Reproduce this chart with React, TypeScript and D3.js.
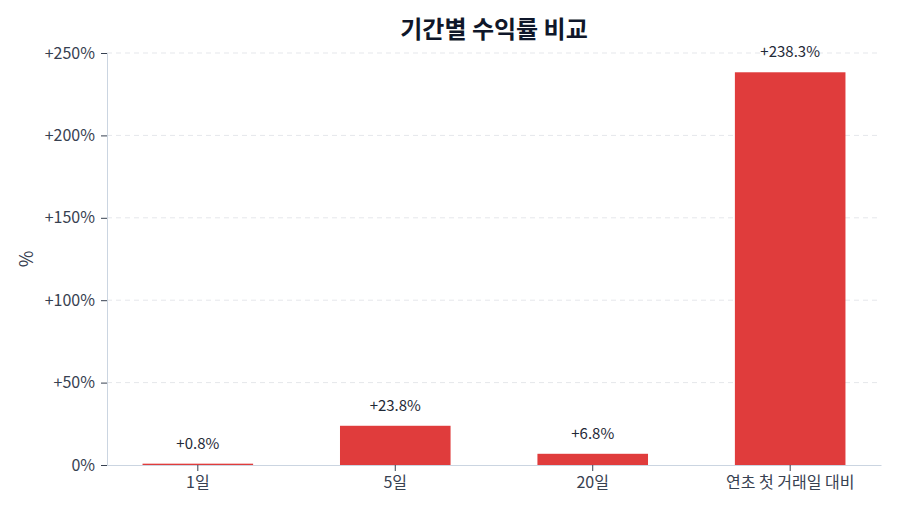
import { useEffect, useRef } from 'react'
import * as d3 from 'd3'

const categories = ['1일', '5일', '20일', '연초 첫 거래일 대비']
const returns = [0.8, 23.8, 6.8, 238.3]
const yTicks = [0, 50, 100, 150, 200, 250]

const W = 900
const H = 514
const margins = { top: 53, right: 19, bottom: 49, left: 107 }
const FONT = "'Noto Sans CJK KR', 'Noto Sans', sans-serif"

const fmt = (v: number) => (v === 0 ? '0%' : '+' + v + '%')

export default function App() {
	const ref = useRef<SVGSVGElement>(null)

	useEffect(() => {
		const svg = d3.select(ref.current)
		svg.selectAll('*').remove()

		const x = d3
			.scaleBand()
			.domain(categories)
			.range([margins.left, W - margins.right])
			.paddingInner(0.44)
			.paddingOuter(0.18)

		const y = d3
			.scaleLinear()
			.domain([0, 250])
			.range([H - margins.bottom, margins.top])

		// grid lines
		svg
			.append('g')
			.selectAll('line')
			.data(yTicks.filter((d) => d > 0))
			.enter()
			.append('line')
			.attr('x1', margins.left)
			.attr('x2', W - margins.right)
			.attr('y1', (d) => y(d))
			.attr('y2', (d) => y(d))
			.attr('stroke', '#e5e7eb')
			.attr('stroke-dasharray', '5,4')

		// bars
		svg
			.append('g')
			.selectAll('rect')
			.data(returns)
			.enter()
			.append('rect')
			.attr('x', (_d, i) => x(categories[i]) as number)
			.attr('width', x.bandwidth())
			.attr('y', (d) => y(d))
			.attr('height', (d) => y(0) - y(d))
			.attr('fill', '#e03c3c')

		// value labels
		svg
			.append('g')
			.selectAll('text')
			.data(returns)
			.enter()
			.append('text')
			.attr('x', (_d, i) => (x(categories[i]) as number) + x.bandwidth() / 2)
			.attr('y', (d) => y(d) - 15)
			.attr('text-anchor', 'middle')
			.style('font', '15px ' + FONT)
			.attr('fill', '#1f2937')
			.text((d) => '+' + d.toFixed(1) + '%')

		// y axis
		const yAxis = d3
			.axisLeft(y)
			.tickValues(yTicks)
			.tickSize(6)
			.tickPadding(6)
			.tickFormat((d: any) => fmt(d))
		const gy = svg
			.append('g')
			.attr('transform', 'translate(' + margins.left + ',0)')
			.call(yAxis)
		gy.select('.domain').attr('stroke', '#cbd5e1')
		gy.selectAll('.tick line').attr('stroke', '#374151')
		gy.selectAll('.tick text')
			.style('font', '16px ' + FONT)
			.attr('fill', '#374151')

		// x axis
		const xAxis = d3.axisBottom(x).tickSize(6).tickPadding(6).tickSizeOuter(0)
		const gx = svg
			.append('g')
			.attr('transform', 'translate(0,' + y(0) + ')')
			.call(xAxis)
		gx.select('.domain').attr('stroke', '#cbd5e1')
		gx.selectAll('.tick line').attr('stroke', '#374151')
		gx.selectAll('.tick text')
			.style('font', '16px ' + FONT)
			.attr('fill', '#374151')

		// y axis label
		svg
			.append('text')
			.attr('transform', 'translate(27,' + (H - margins.bottom + margins.top) / 2 + ') rotate(-90)')
			.attr('text-anchor', 'middle')
			.attr('dy', '0.35em')
			.style('font', '18px ' + FONT)
			.attr('fill', '#374151')
			.text('%')

		// title
		svg
			.append('text')
			.attr('x', 494)
			.attr('y', 38)
			.attr('text-anchor', 'middle')
			.style('font', 'bold 24px ' + FONT)
			.attr('fill', '#0f172a')
			.text('기간별 수익률 비교')
	}, [])

	return (
		<svg
			ref={ref}
			width={W}
			height={H}
			style={{ position: 'absolute', left: 0, top: 0, background: '#fff' }}
		/>
	)
}
